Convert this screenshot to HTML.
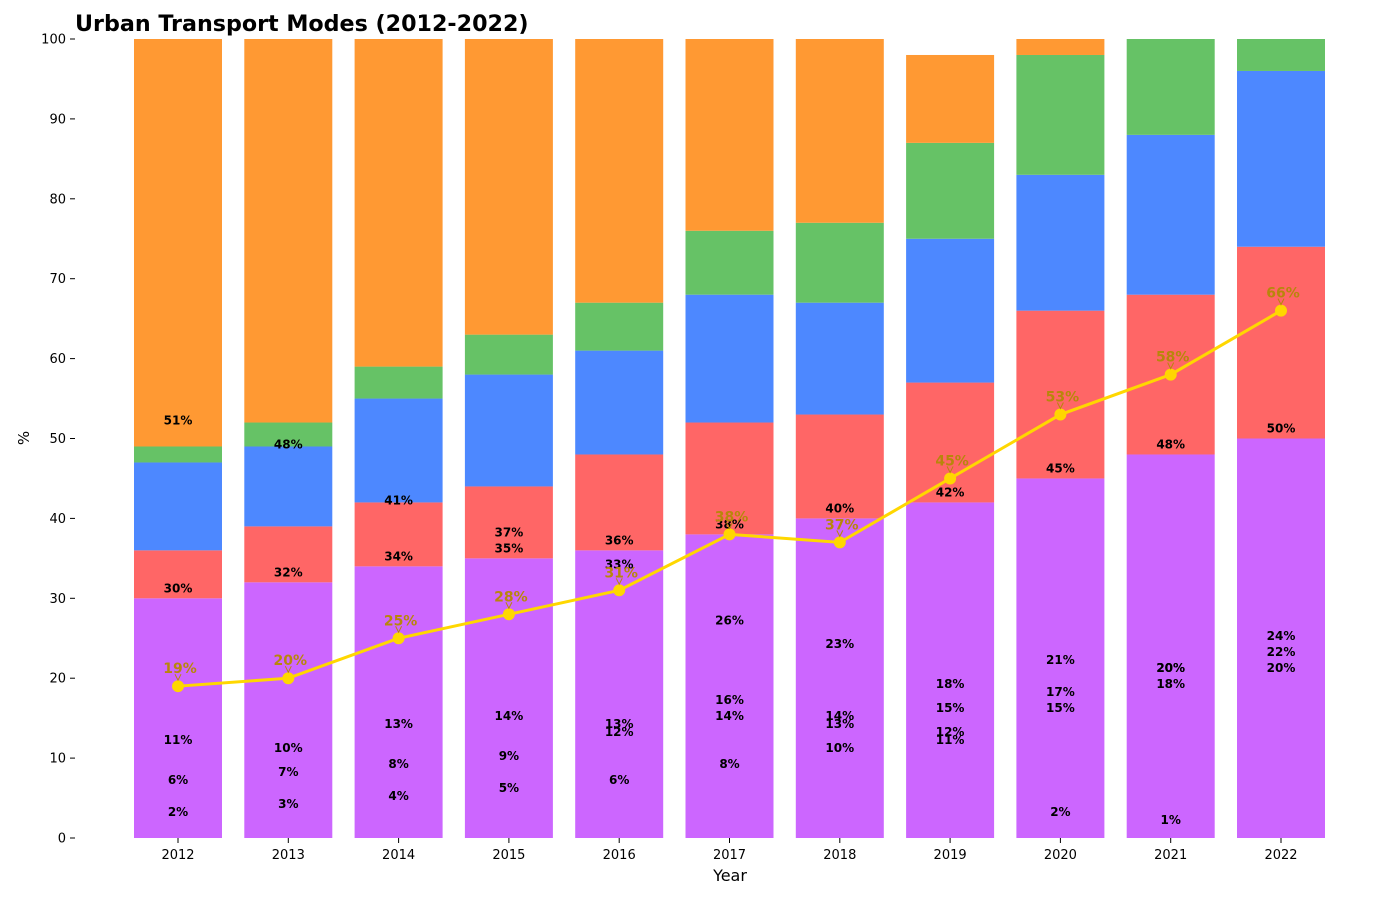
<!DOCTYPE html>
<html><head><meta charset="utf-8"><style>
body{margin:0;background:#fff;font-family:"DejaVu Sans","Liberation Sans",sans-serif}
</style></head><body>
<svg id="c" width="1400" height="900" xmlns="http://www.w3.org/2000/svg" font-family="DejaVu Sans, Liberation Sans, sans-serif">
<text x="75" y="31" font-size="22.2" font-weight="bold">Urban Transport Modes (2012-2022)</text>
<text x="730" y="881" font-size="16" text-anchor="middle">Year</text>
<text x="29" y="438" font-size="15" text-anchor="middle" transform="rotate(-90 29 438)">%</text>
</svg>
<script>
const years=["2012","2013","2014","2015","2016","2017","2018","2019","2020","2021","2022"];
const purple=[30,32,34,35,36,38,40,42,45,48,50];
const red=[6,7,8,9,12,14,13,15,21,20,24];
const blue=[11,10,13,14,13,16,14,18,17,20,22];
const green=[2,3,4,5,6,8,10,12,15,18,20];
const orange=[51,48,41,37,33,26,23,11,2,1,0];
const lineVals=[19,20,25,28,31,38,37,45,53,58,66];
const yTicks=[0,10,20,30,40,50,60,70,80,90,100];
const NS="http://www.w3.org/2000/svg";
const svg=document.getElementById('c');
const x=i=>178+i*110.3;
const y=v=>838-v*7.99;
const bw=88;
function el(t,a,parent){const e=document.createElementNS(NS,t);for(const k in a)e.setAttribute(k,a[k]);(parent||svg).appendChild(e);return e;}
const defs=el('defs',{});const cp=el('clipPath',{id:'clip'},defs);el('rect',{x:75,y:39,width:1320,height:800},cp);
const g=el('g',{'clip-path':'url(#clip)'});
const series=[[purple,'#cc66ff','purple'],[red,'#ff6666','red'],[blue,'#4d88ff','blue'],[green,'#66c266','green'],[orange,'#ff9933','orange']];
years.forEach((yr,i)=>{
 let base=0;
 series.forEach(([arr,col,nm])=>{
  const v=arr[i];if(v<=0)return;
  const r=el('rect',{x:x(i)-bw/2,y:y(base+v),width:bw,height:v*7.99,fill:col},g);
  
  
  base+=v;
 });
 series.forEach(([arr,col,nm])=>{
  const v=arr[i];if(v<=0)return;
  const t=el('text',{x:x(i),y:y(v)-6,'font-size':12,'font-weight':'bold','text-anchor':'middle'});
  t.textContent=v+'%';
  
  
 });
 const tk=el('line',{x1:x(i),x2:x(i),y1:838,y2:843,stroke:'#000'});
 
 
 const tl=el('text',{x:x(i),y:859,'font-size':13,'text-anchor':'middle'});
 tl.textContent=yr;
 
 
});
yTicks.forEach(v=>{
 const tk=el('line',{x1:70,x2:75,y1:y(v),y2:y(v),stroke:'#000'});
 
 
 const t=el('text',{x:66,y:y(v)+4.5,'font-size':13,'text-anchor':'end'});
 t.textContent=v;
 
 
});
const pl=el('polyline',{points:lineVals.map((v,i)=>x(i)+','+y(v)).join(' '),fill:'none',stroke:'#ffd700','stroke-width':3});


lineVals.forEach((v,i)=>{
 const c=el('circle',{cx:x(i),cy:y(v),r:6,fill:'#ffd700'});
 
 
 const a=el('path',{d:`M${x(i)-3} ${y(v)-12} L${x(i)} ${y(v)-6} L${x(i)+3} ${y(v)-12}`,fill:'none',stroke:'#b8860b','stroke-width':1});
 
 
 const t=el('text',{x:x(i)+2,y:y(v)-13,'font-size':14,'font-weight':'bold','text-anchor':'middle',fill:'#b8860b'});
 t.textContent=v+'%';
 
 
});
</script>
</body></html>
